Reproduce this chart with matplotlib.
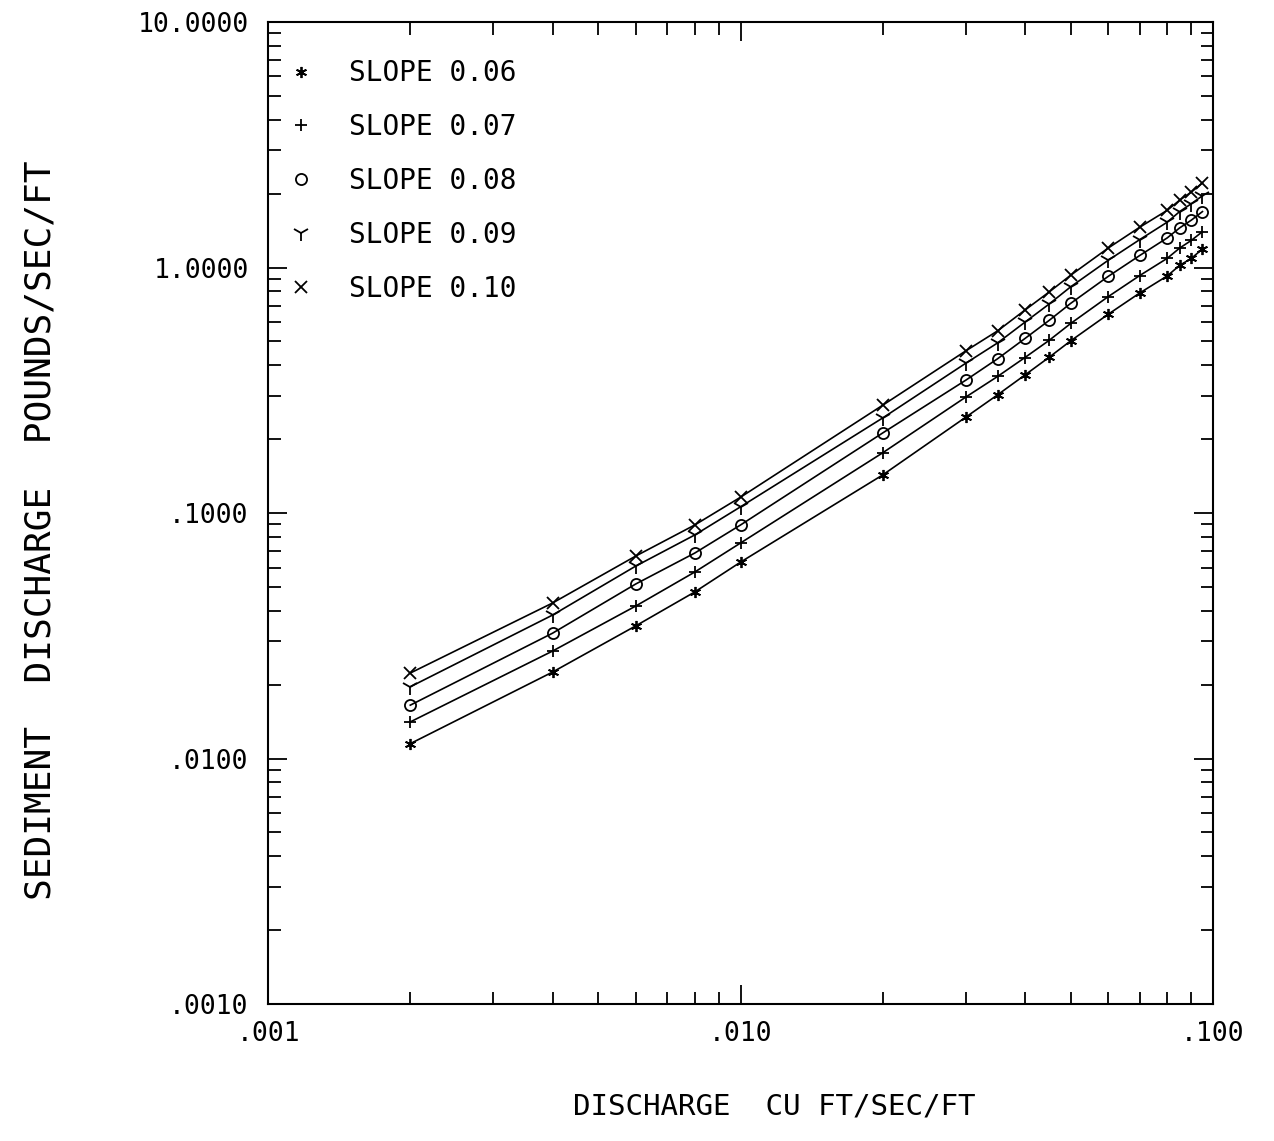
import numpy as np
import matplotlib
matplotlib.use('Agg')
import matplotlib.pyplot as plt
from matplotlib.ticker import FixedLocator, FuncFormatter, NullFormatter

# discharge, cu ft/sec/ft
discharge = [0.002, 0.004, 0.006, 0.008, 0.010, 0.020, 0.030, 0.035, 0.040,
             0.045, 0.050, 0.060, 0.070, 0.080, 0.085, 0.090, 0.095]

# sediment discharge, pounds/sec/ft
sed_006 = [0.0115, 0.0225, 0.0347, 0.0477, 0.0631, 0.143, 0.246, 0.303, 0.365,
           0.431, 0.503, 0.645, 0.788, 0.924, 1.02, 1.09, 1.19]
sed_007 = [0.0141, 0.0274, 0.0418, 0.0575, 0.0755, 0.176, 0.297, 0.360, 0.430,
           0.505, 0.592, 0.761, 0.928, 1.09, 1.20, 1.29, 1.40]
sed_008 = [0.0165, 0.0324, 0.0514, 0.0687, 0.0894, 0.212, 0.348, 0.425, 0.514,
           0.609, 0.715, 0.920, 1.12, 1.32, 1.45, 1.56, 1.69]
sed_009 = [0.0196, 0.0384, 0.0608, 0.0814, 0.106, 0.244, 0.408, 0.493, 0.599,
           0.710, 0.835, 1.07, 1.30, 1.53, 1.69, 1.82, 1.96]
sed_010 = [0.0223, 0.0430, 0.0668, 0.0894, 0.116, 0.275, 0.458, 0.552, 0.671,
           0.795, 0.931, 1.20, 1.46, 1.71, 1.88, 2.03, 2.21]

series = [
    ('SLOPE 0.06', sed_006, dict(marker=(6, 2, 0), markersize=8)),
    ('SLOPE 0.07', sed_007, dict(marker='+', markersize=9)),
    ('SLOPE 0.08', sed_008, dict(marker='o', markersize=8, markerfacecolor='none')),
    ('SLOPE 0.09', sed_009, dict(marker='1', markersize=12)),
    ('SLOPE 0.10', sed_010, dict(marker='x', markersize=8)),
]

# plotter-style lettering
plt.rcParams['font.family'] = ['DejaVu Sans Mono']

fig = plt.figure(figsize=(12.74, 11.41), dpi=100)
ax = fig.add_axes([0.2104, 0.120, 0.7417, 0.8607])

for label, vals, style in series:
    ax.plot(discharge, vals, color='black', linewidth=1.2,
            markeredgewidth=1.3, label=label, **style)

ax.set_xscale('log')
ax.set_yscale('log')
ax.set_xlim(0.001, 0.1)
ax.set_ylim(0.001, 10)

# ticks, inward on all sides
ax.xaxis.set_major_locator(FixedLocator([0.001, 0.01, 0.1]))
ax.yaxis.set_major_locator(FixedLocator([0.001, 0.01, 0.1, 1, 10]))
ax.xaxis.set_major_formatter(FuncFormatter(
    lambda v, p: {0.001: '.001', 0.01: '.010', 0.1: '.100'}.get(round(v, 4), '')))
ax.yaxis.set_major_formatter(FuncFormatter(
    lambda v, p: {0.001: '.0010', 0.01: '.0100', 0.1: '.1000',
                  1.0: '1.0000', 10.0: '10.0000'}.get(round(v, 4), '')))
ax.xaxis.set_minor_formatter(NullFormatter())
ax.yaxis.set_minor_formatter(NullFormatter())
ax.tick_params(which='both', direction='in', top=True, right=True, width=1.3)
ax.tick_params(which='major', length=14, labelsize=19)
ax.tick_params(which='minor', length=9)
ax.tick_params(axis='x', which='major', pad=12)
ax.tick_params(axis='y', which='major', pad=14)
for s in ax.spines.values():
    s.set_linewidth(1.5)

fig.text(0.608, 0.030, 'DISCHARGE  CU FT/SEC/FT', ha='center', va='center',
         fontsize=21)
fig.text(0.032, 0.535, 'SEDIMENT  DISCHARGE  POUNDS/SEC/FT', ha='center',
         va='center', rotation=90, fontsize=26)

ax.legend(loc='upper left', bbox_to_anchor=(0.0, 0.996), frameon=False,
          handlelength=0, numpoints=1, handletextpad=1.7, labelspacing=0.93,
          fontsize=20, borderaxespad=0.8)

fig.savefig('out.png', dpi=100)
